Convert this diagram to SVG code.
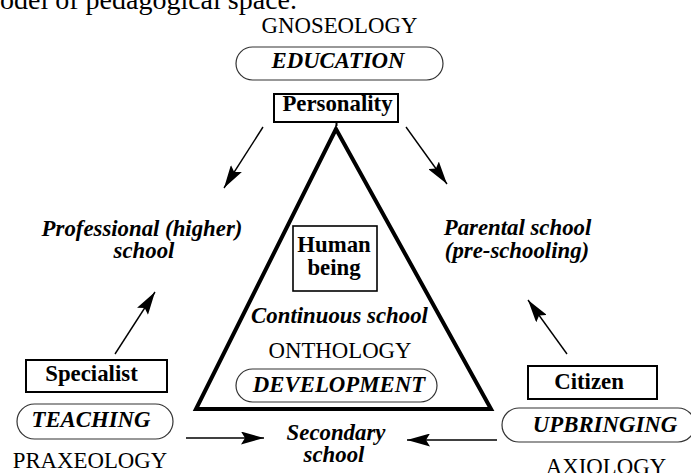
<svg xmlns="http://www.w3.org/2000/svg" width="691" height="473" viewBox="0 0 691 473">
  <defs>
    <marker id="head" viewBox="0 0 23 13" refX="23" refY="6.5" markerWidth="23" markerHeight="13" markerUnits="userSpaceOnUse" orient="auto">
      <path d="M0,0 L23,6.5 L0,13 L4,6.5 Z" fill="#000"/>
    </marker>
  </defs>
  <style>
    text { font-family: "Liberation Serif", "Times New Roman", serif; font-size: 22.8px; fill: #000; text-anchor: middle; }
    .bi { font-weight: bold; font-style: italic; }
    .b { font-weight: bold; }
    .box { fill: #fff; stroke: #000; stroke-width: 2; }
    .pill { fill: #fff; stroke: #333; stroke-width: 1.2; }
    .arrow { fill: none; stroke: #000; stroke-width: 1.4; marker-end: url(#head); }
  </style>
  <rect width="691" height="473" fill="#fff"/>

  <!-- caption line -->
  <text x="0" y="9" style="font-size:28px;text-anchor:start">odel of pedagogical space.</text>

  <!-- central triangle -->
  <g id="triangle">
    <polygon points="336,129 196,409 491,409" fill="none" stroke="#000" stroke-width="4" stroke-linejoin="miter"/>
    <line x1="336.5" y1="122" x2="336.5" y2="126" stroke="#000" stroke-width="2"/>
  </g>

  <!-- connectors -->
  <g id="connectors">
    <line class="arrow" x1="263" y1="127" x2="224" y2="188"/>
    <line class="arrow" x1="406" y1="127" x2="447" y2="184"/>
    <line class="arrow" x1="115" y1="354" x2="155" y2="292"/>
    <line class="arrow" x1="567" y1="354" x2="528" y2="300"/>
    <line class="arrow" x1="186" y1="438" x2="264" y2="438"/>
    <line class="arrow" x1="497" y1="440" x2="407" y2="440"/>
  </g>

  <!-- top: gnoseology / education / personality -->
  <g id="gnoseology">
    <text x="339.5" y="33">GNOSEOLOGY</text>
  </g>
  <g id="education">
    <rect class="pill" x="236" y="47" width="207" height="33" rx="16.5"/>
    <text class="bi" x="338" y="68">EDUCATION</text>
  </g>
  <g id="personality">
    <rect class="box" x="274" y="94" width="124" height="28"/>
    <text class="b" x="337.5" y="111">Personality</text>
  </g>

  <!-- side schools -->
  <g id="professional-school">
    <text class="bi" x="142" y="236">Professional (higher)</text>
    <text class="bi" x="144" y="258">school</text>
  </g>
  <g id="parental-school">
    <text class="bi" x="517.5" y="235">Parental school</text>
    <text class="bi" x="517" y="258">(pre-schooling)</text>
  </g>

  <!-- inside the triangle -->
  <g id="human-being">
    <rect class="box" x="293" y="226" width="84" height="65" style="stroke-width:1.6"/>
    <text class="b" x="334" y="252">Human</text>
    <text class="b" x="334" y="275">being</text>
  </g>
  <g id="continuous-school">
    <text class="bi" x="339.5" y="323">Continuous school</text>
  </g>
  <g id="onthology">
    <text x="340" y="358">ONTHOLOGY</text>
  </g>
  <g id="development">
    <rect class="pill" x="236" y="369" width="201" height="33" rx="16.5"/>
    <text class="bi" x="339" y="392">DEVELOPMENT</text>
  </g>

  <!-- bottom left -->
  <g id="specialist">
    <rect class="box" x="26" y="360" width="141" height="32"/>
    <text class="b" x="91.5" y="381">Specialist</text>
  </g>
  <g id="teaching">
    <rect class="pill" x="17" y="404" width="156" height="35" rx="17.5"/>
    <text class="bi" x="91" y="427">TEACHING</text>
  </g>
  <g id="praxeology">
    <text x="90" y="468">PRAXEOLOGY</text>
  </g>

  <!-- bottom centre -->
  <g id="secondary-school">
    <text class="bi" x="336" y="440">Secondary</text>
    <text class="bi" x="334" y="462">school</text>
  </g>

  <!-- bottom right -->
  <g id="citizen">
    <rect class="box" x="528" y="366" width="129" height="33"/>
    <text class="b" x="589" y="389">Citizen</text>
  </g>
  <g id="upbringing">
    <rect class="pill" x="502" y="408" width="193" height="34" rx="17"/>
    <text class="bi" x="605" y="432">UPBRINGING</text>
  </g>
  <g id="axiology">
    <text x="606" y="474">AXIOLOGY</text>
  </g>
</svg>
